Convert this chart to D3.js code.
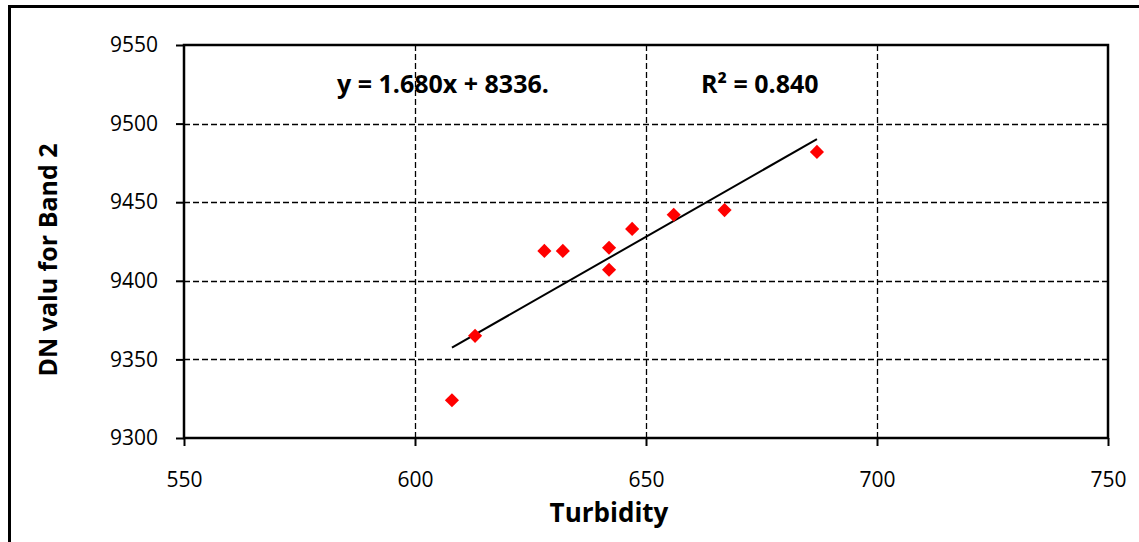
<!DOCTYPE html>
<html>
<head>
<meta charset="utf-8">
<script src="https://cdn.jsdelivr.net/npm/d3@7"></script>
<style>
  html, body { margin: 0; padding: 0; background: #fff; }
  svg { display: block; }
  text { font-family: "Open Sans", "Noto Sans", sans-serif; fill: #000; }
</style>
</head>
<body>
<svg id="chart" width="1139" height="542"></svg>
<script>
// ---- data ----
const turbidity = [608, 613, 628, 632, 642, 642, 647, 656, 667, 687];
const dnBand2   = [9324, 9365, 9419, 9419, 9421, 9407, 9433, 9442, 9445, 9482];
const xTicks = [550, 600, 650, 700, 750];
const yTicks = [9300, 9350, 9400, 9450, 9500, 9550];
const trendSlope = 1.680;
const trendIntercept = 8336;
const rSquared = 0.840;
const xTitle = "Turbidity";
const yTitle = "DN valu for Band 2";

// ---- layout ----
const svg = d3.select("#chart");
const pLeft = 184, pRight = 1108, pTop = 45, pBottom = 438;

const x = d3.scaleLinear().domain([550, 750]).range([pLeft, pRight]);
const y = d3.scaleLinear().domain([9300, 9550]).range([pBottom, pTop]);

// outer frame
svg.append("path")
  .attr("d", `M9.5,545 L9.5,6.5 L1145,6.5`)
  .attr("fill", "none").attr("stroke", "#000").attr("stroke-width", 3);

// gridlines
const grid = svg.append("g");
grid.selectAll(".hg").data(yTicks.filter(t => t > 9300 && t < 9550)).enter()
  .append("line")
  .attr("x1", pLeft).attr("x2", pRight)
  .attr("y1", d => Math.round(y(d)) + 0.5).attr("y2", d => Math.round(y(d)) + 0.5)
  .attr("stroke", "#000").attr("stroke-width", 1.3).attr("stroke-dasharray", "6,3");
grid.selectAll(".vg").data(xTicks.filter(t => t > 550 && t < 750)).enter()
  .append("line")
  .attr("y1", pTop).attr("y2", pBottom)
  .attr("x1", d => Math.round(x(d)) + 0.5).attr("x2", d => Math.round(x(d)) + 0.5)
  .attr("stroke", "#000").attr("stroke-width", 1.3).attr("stroke-dasharray", "6,3");

// axes
const xAxis = d3.axisBottom(x).tickValues(xTicks).tickSize(8).tickPadding(26).tickFormat(d3.format("d"));
const yAxis = d3.axisLeft(y).tickValues(yTicks).tickSize(8).tickPadding(18).tickFormat(d3.format("d"));

const gx = svg.append("g").attr("transform", `translate(0,${pBottom})`).call(xAxis);
const gy = svg.append("g").attr("transform", `translate(${pLeft},0)`).call(yAxis);
[gx, gy].forEach(g => {
  g.select(".domain").remove();
  g.selectAll(".tick line").attr("stroke", "#000").attr("stroke-width", 2);
  g.selectAll(".tick text").style("font-size", "21px").attr("fill", "#000")
    .style("font-family", "'Open Sans', sans-serif");
});

// plot border
svg.append("rect")
  .attr("x", pLeft).attr("y", pTop)
  .attr("width", pRight - pLeft).attr("height", pBottom - pTop)
  .attr("fill", "none").attr("stroke", "#000").attr("stroke-width", 2.5);

// trendline
const xMin = d3.min(turbidity), xMax = d3.max(turbidity);
svg.append("line")
  .attr("x1", x(xMin)).attr("y1", y(trendSlope * xMin + trendIntercept))
  .attr("x2", x(xMax)).attr("y2", y(trendSlope * xMax + trendIntercept))
  .attr("stroke", "#000").attr("stroke-width", 2);

// points
const pts = turbidity.map((t, i) => ({ t, v: dnBand2[i] }));
svg.append("g").selectAll("path").data(pts).enter()
  .append("path")
  .attr("d", d3.symbol().type(d3.symbolSquare).size(100))
  .attr("transform", d => `translate(${x(d.t)},${y(d.v)}) rotate(45)`)
  .attr("fill", "#ff0000");

// equation labels
svg.append("text")
  .attr("x", 337).attr("y", 93)
  .style("font-size", "25px").style("font-weight", "bold")
  .text(`y = ${trendSlope.toFixed(3)}x + ${trendIntercept}.`);
svg.append("text")
  .attr("x", 701).attr("y", 93)
  .style("font-size", "25px").style("font-weight", "bold")
  .text(`R² = ${rSquared.toFixed(3)}`);

// axis titles
svg.append("text")
  .attr("x", 609).attr("y", 522)
  .attr("text-anchor", "middle")
  .style("font-size", "26px").style("font-weight", "bold")
  .text(xTitle);
svg.append("text")
  .attr("transform", `translate(57,260) rotate(-90)`)
  .attr("text-anchor", "middle")
  .style("font-size", "25px").style("font-weight", "bold")
  .text(yTitle);
</script>
</body>
</html>
